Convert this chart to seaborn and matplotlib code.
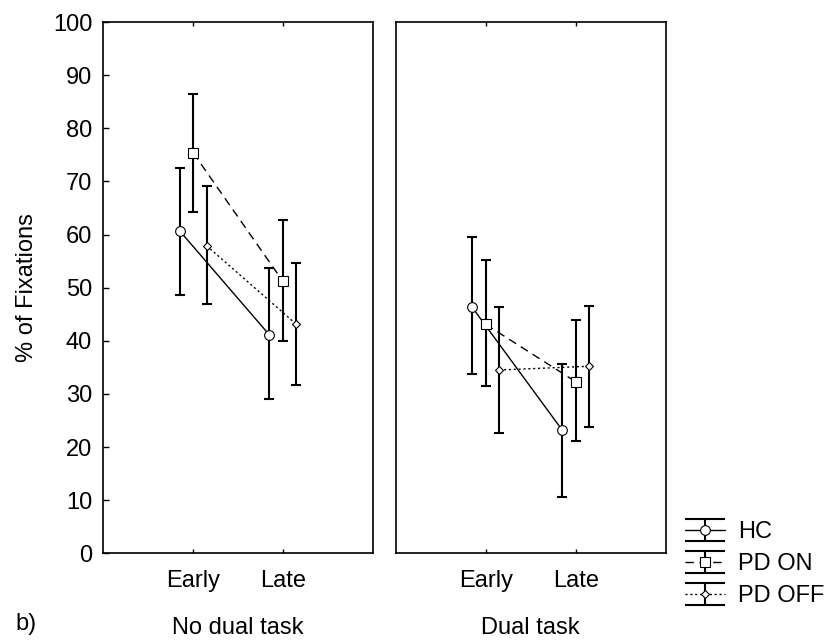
import numpy as np
import pandas as pd
import matplotlib.pyplot as plt
from matplotlib.lines import Line2D
from matplotlib.path import Path
from matplotlib.legend_handler import HandlerTuple
import seaborn as sns

sns.set_style('ticks')
plt.rcParams['font.family'] = ['Liberation Sans', 'DejaVu Sans']
plt.rcParams['font.size'] = 17
plt.rcParams.update({'text.color': 'black', 'axes.labelcolor': 'black',
                     'xtick.color': 'black', 'ytick.color': 'black',
                     'axes.edgecolor': 'black'})

# data (means and error bar ends)
phases = ['Early', 'Late']
groups = ['HC', 'PD ON', 'PD OFF']
panels = ['No dual task', 'Dual task']

nodual_hc_mean = [60.7, 41.1]
nodual_hc_low = [48.6, 29.0]
nodual_hc_high = [72.6, 53.7]
nodual_on_mean = [75.4, 51.2]
nodual_on_low = [64.3, 40.0]
nodual_on_high = [86.4, 62.7]
nodual_off_mean = [57.9, 43.1]
nodual_off_low = [47.0, 31.6]
nodual_off_high = [69.2, 54.6]

dual_hc_mean = [46.3, 23.2]
dual_hc_low = [33.7, 10.5]
dual_hc_high = [59.5, 35.7]
dual_on_mean = [43.1, 32.3]
dual_on_low = [31.5, 21.1]
dual_on_high = [55.2, 44.0]
dual_off_mean = [34.5, 35.2]
dual_off_low = [22.7, 23.7]
dual_off_high = [46.3, 46.6]

rows = []
for panel, vals in [
    ('No dual task', [(nodual_hc_mean, nodual_hc_low, nodual_hc_high),
                      (nodual_on_mean, nodual_on_low, nodual_on_high),
                      (nodual_off_mean, nodual_off_low, nodual_off_high)]),
    ('Dual task', [(dual_hc_mean, dual_hc_low, dual_hc_high),
                   (dual_on_mean, dual_on_low, dual_on_high),
                   (dual_off_mean, dual_off_low, dual_off_high)]),
]:
    for g, (m, lo, hi) in zip(groups, vals):
        for i, ph in enumerate(phases):
            rows.append({'panel': panel, 'group': g, 'phase': ph, 'pos': i,
                         'mean': m[i], 'low': lo[i], 'high': hi[i]})
df = pd.DataFrame(rows)

offsets = {'HC': -0.15, 'PD ON': 0.0, 'PD OFF': 0.15}
styles = {
    'HC': dict(marker='o', markersize=7, linestyle='-'),
    'PD ON': dict(marker='s', markersize=6.5, linestyle=(0, (6, 4))),
    'PD OFF': dict(marker='D', markersize=3.8, linestyle=(0, (1.5, 2))),
}

fig = plt.figure(figsize=(8.33, 6.42), dpi=100)
ax1 = fig.add_axes([0.124, 0.1382, 0.3234, 0.8275])
ax2 = fig.add_axes([0.475, 0.1382, 0.3241, 0.8275], sharey=ax1)

for ax, panel in zip([ax1, ax2], panels):
    sub = df[df['panel'] == panel]
    for g in groups:
        d = sub[sub['group'] == g]
        x = d['pos'] + offsets[g]
        ax.errorbar(x, d['mean'],
                    yerr=[d['mean'] - d['low'], d['high'] - d['mean']],
                    fmt='none', ecolor='black', elinewidth=1.5,
                    capsize=3.8, capthick=1.5, zorder=2)
        sns.lineplot(x=x.values, y=d['mean'].values, ax=ax, color='black',
                     lw=1.0, mfc='white', mec='black', mew=0.8,
                     zorder=3, legend=False, **styles[g])
    ax.set_xlim(-1, 2)
    ax.set_ylim(0, 100)
    ax.set_xticks([0, 1])
    ax.set_xticklabels(phases)
    ax.tick_params(axis='x', direction='in', top=True, length=3,
                   width=1, pad=12)
    ax.set_xlabel(panel, labelpad=18)
    for sp in ax.spines.values():
        sp.set_visible(True)
        sp.set_linewidth(1.2)

ax1.set_yticks(np.arange(0, 101, 10))
ax1.tick_params(axis='y', direction='in', length=4.5, width=1, pad=8)
ax1.set_ylabel('% of Fixations', labelpad=11)
ax2.tick_params(axis='y', left=False, labelleft=False)
ax2.set_ylabel('')

fig.text(0.018, 0.018, 'b)', fontsize=17)

# legend handles: errorbar glyph with caps across the handle, plus line+marker
cap = Path([(-1, 0.55), (1, 0.55), (0, 0.55), (0, -0.55), (-1, -0.55), (1, -0.55)],
           [Path.MOVETO, Path.LINETO, Path.MOVETO, Path.LINETO, Path.MOVETO, Path.LINETO])
handles = []
for g in groups:
    bar = Line2D([], [], marker=cap, markersize=29, linestyle='none',
                 mec='black', mfc='none', mew=1.5)
    ln = Line2D([], [], color='black', lw=1.0, mfc='white', mec='black',
                mew=0.8, **styles[g])
    handles.append((bar, ln))
fig.legend(handles, groups, handler_map={tuple: HandlerTuple(ndivide=1, pad=0)},
           loc='center left', bbox_to_anchor=(0.822, 0.1215), frameon=False,
           borderpad=0, borderaxespad=0, handlelength=1.7, handletextpad=0.55,
           labelspacing=0.42, fontsize=17)

fig.savefig('out.png', dpi=100)
